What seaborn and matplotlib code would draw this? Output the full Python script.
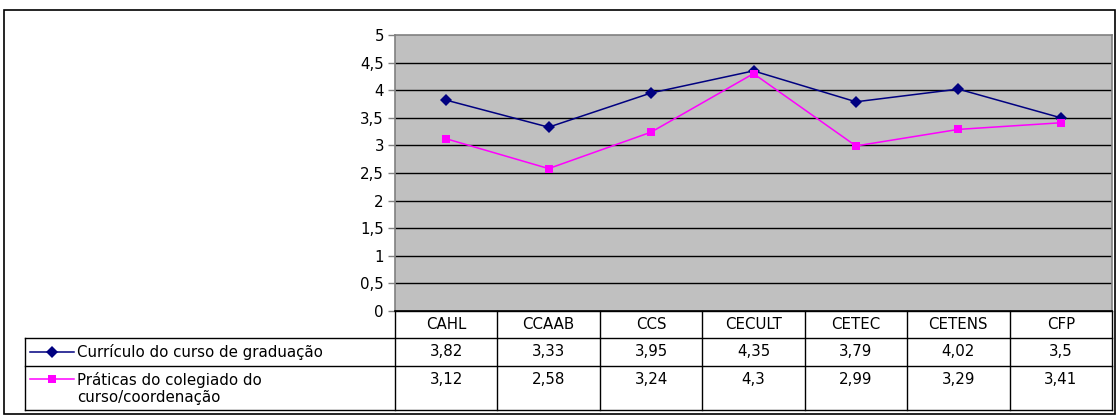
import seaborn as sns
import pandas as pd
import matplotlib.pyplot as plt
import numpy as np
from matplotlib.patches import Rectangle
from matplotlib.lines import Line2D

centros = ['CAHL', 'CCAAB', 'CCS', 'CECULT', 'CETEC', 'CETENS', 'CFP']
curriculo = [3.82, 3.33, 3.95, 4.35, 3.79, 4.02, 3.5]
praticas = [3.12, 2.58, 3.24, 4.3, 2.99, 3.29, 3.41]
series = ['Currículo do curso de graduação', 'Práticas do colegiado do\ncurso/coordenação']
cores = ['#000080', '#FF00FF']
marcas = ['D', 's']

plt.rcParams['font.family'] = ['DejaVu Sans']
FS = 10.8

W, H = 1117, 416
fig = plt.figure(figsize=(W / 100, H / 100), dpi=100, facecolor='w')

def fx(px):
    return px / W

def fy(py):
    return 1 - py / H

# moldura externa
fig.patches.append(Rectangle((fx(4), fy(414)), fx(1115) - fx(4), fy(10) - fy(414),
                             transform=fig.transFigure, fill=False, ec='k', lw=1.2))

# area do grafico
L, R, T, B = 395, 1112, 35, 311
ax = fig.add_axes([fx(L), fy(B), fx(R) - fx(L), fy(T) - fy(B)])
ax.set_facecolor('#C0C0C0')

df = pd.DataFrame({
    'pos': list(range(len(centros))) * 2,
    'valor': curriculo + praticas,
    'serie': [series[0]] * len(centros) + [series[1]] * len(centros),
})
sns.lineplot(data=df, x='pos', y='valor', hue='serie', style='serie',
             palette=cores, markers=marcas, dashes=False, lw=1.1,
             markersize=6, markeredgewidth=0, ax=ax, legend=False)

ax.set_xlim(-0.5, len(centros) - 0.5)
ax.set_ylim(0, 5)
ax.set_yticks(np.arange(0, 5.01, 0.5))
ax.set_yticklabels([('%g' % v).replace('.', ',') for v in np.arange(0, 5.01, 0.5)], fontsize=FS)
ax.set_xticks([])
ax.set_xlabel('')
ax.set_ylabel('')
ax.tick_params(axis='y', length=5, width=1, color='#808080', pad=3)
for v in np.arange(0.5, 5, 0.5):
    ax.axhline(v, color='k', lw=1, zorder=1)
for s in ax.spines.values():
    s.set_color('#808080')
    s.set_linewidth(1.2)
ax.spines['bottom'].set_color('k')

# tabela de dados
tx = fig.add_axes([0, 0, 1, 1], facecolor='none')
tx.set_xlim(0, W)
tx.set_ylim(H, 0)
tx.axis('off')
cw = (R - L) / len(centros)
linhas = [311, 338, 366, 410]
lk = dict(color='k', lw=1)
# linhas horizontais
tx.plot([L, R], [linhas[0]] * 2, **lk)
for y in linhas[1:]:
    tx.plot([25, R], [y, y], **lk)
# linhas verticais
tx.plot([25, 25], [linhas[1], linhas[3]], **lk)
for i in range(len(centros) + 1):
    tx.plot([L + i * cw] * 2, [linhas[0], linhas[3]], **lk)

for i, c in enumerate(centros):
    xc = L + (i + 0.5) * cw
    tx.text(xc, (linhas[0] + linhas[1]) / 2, c, ha='center', va='center', fontsize=FS)
    tx.text(xc, (linhas[1] + linhas[2]) / 2, ('%g' % curriculo[i]).replace('.', ','),
            ha='center', va='center', fontsize=FS)
    tx.text(xc, linhas[2] + 13, ('%g' % praticas[i]).replace('.', ','),
            ha='center', va='center', fontsize=FS)

# legenda dentro da tabela
yl = [(linhas[1] + linhas[2]) / 2, linhas[2] + 13]
for k in range(2):
    tx.add_line(Line2D([30, 74], [yl[k]] * 2, color=cores[k], lw=1.1))
    tx.plot(52, yl[k], marker=marcas[k], color=cores[k], ms=6, mew=0)
tx.text(77, yl[0], series[0], ha='left', va='center', fontsize=FS)
tx.text(77, yl[1] - 7, series[1], ha='left', va='top', fontsize=FS, linespacing=1.15)

fig.savefig('out.png', dpi=100, facecolor='w')
